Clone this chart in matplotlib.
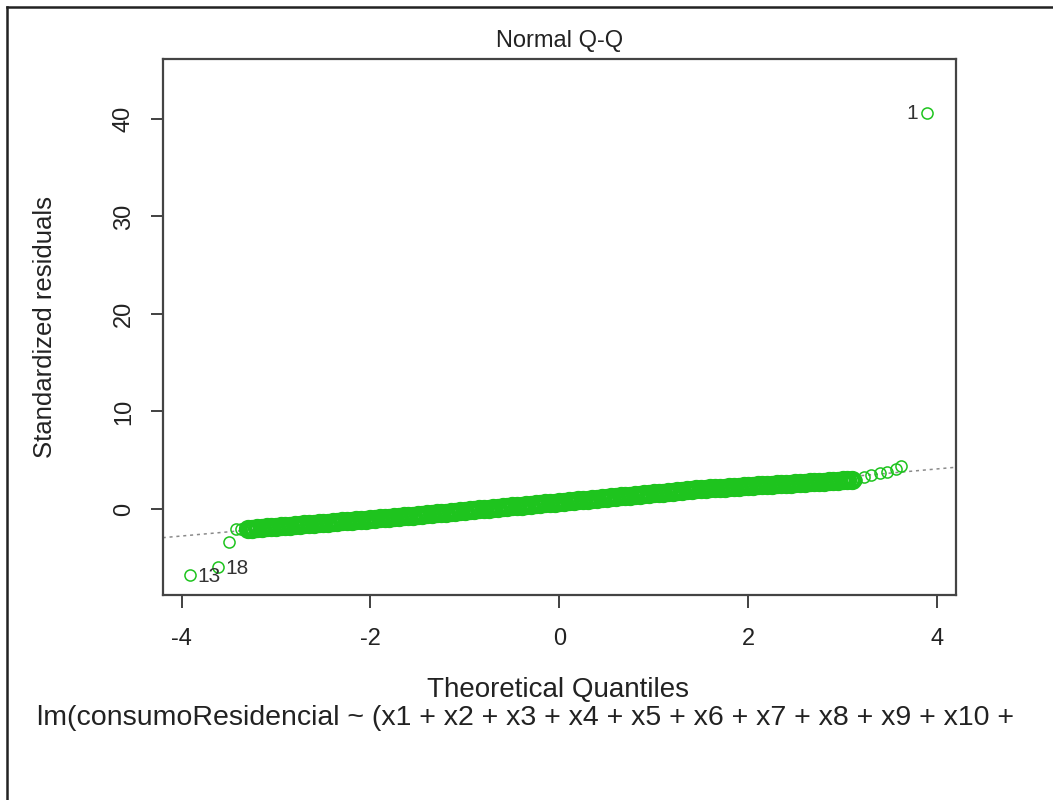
import matplotlib
matplotlib.use("Agg")
import matplotlib.pyplot as plt
import numpy as np

# --- data (theoretical quantile, standardized residual) ---
band_q = [
    -3.30, -3.25, -3.20, -3.15, -3.10, -3.05, -3.00, -2.95, -2.90, -2.85,
    -2.80, -2.75, -2.70, -2.65, -2.60, -2.55, -2.50, -2.45, -2.40, -2.35,
    -2.30, -2.25, -2.20, -2.15, -2.10, -2.05, -2.00, -1.95, -1.90, -1.85,
    -1.80, -1.75, -1.70, -1.65, -1.60, -1.55, -1.50, -1.45, -1.40, -1.35,
    -1.30, -1.25, -1.20, -1.15, -1.10, -1.05, -1.00, -0.95, -0.90, -0.85,
    -0.80, -0.75, -0.70, -0.65, -0.60, -0.55, -0.50, -0.45, -0.40, -0.35,
    -0.30, -0.25, -0.20, -0.15, -0.10, -0.05, 0.00, 0.05, 0.10, 0.15,
    0.20, 0.25, 0.30, 0.35, 0.40, 0.45, 0.50, 0.55, 0.60, 0.65,
    0.70, 0.75, 0.80, 0.85, 0.90, 0.95, 1.00, 1.05, 1.10, 1.15,
    1.20, 1.25, 1.30, 1.35, 1.40, 1.45, 1.50, 1.55, 1.60, 1.65,
    1.70, 1.75, 1.80, 1.85, 1.90, 1.95, 2.00, 2.05, 2.10, 2.15,
    2.20, 2.25, 2.30, 2.35, 2.40, 2.45, 2.50, 2.55, 2.60, 2.65,
    2.70, 2.75, 2.80, 2.85, 2.90, 2.95, 3.00, 3.05, 3.10,
]
band_r = [
    -2.05, -2.01, -1.97, -1.93, -1.89, -1.86, -1.82, -1.78, -1.74, -1.70,
    -1.66, -1.62, -1.58, -1.54, -1.50, -1.47, -1.43, -1.39, -1.35, -1.31,
    -1.27, -1.23, -1.19, -1.15, -1.12, -1.08, -1.04, -1.00, -0.96, -0.92,
    -0.88, -0.84, -0.80, -0.76, -0.71, -0.67, -0.62, -0.58, -0.54, -0.49,
    -0.45, -0.40, -0.36, -0.32, -0.27, -0.23, -0.18, -0.14, -0.10, -0.05,
    -0.01, 0.04, 0.08, 0.13, 0.17, 0.21, 0.26, 0.30, 0.35, 0.39,
    0.43, 0.48, 0.52, 0.57, 0.61, 0.66, 0.70, 0.75, 0.79, 0.84,
    0.88, 0.93, 0.97, 1.02, 1.06, 1.11, 1.15, 1.20, 1.24, 1.29,
    1.33, 1.38, 1.42, 1.47, 1.51, 1.56, 1.60, 1.65, 1.69, 1.74,
    1.78, 1.83, 1.87, 1.92, 1.96, 2.01, 2.05, 2.08, 2.11, 2.14,
    2.17, 2.20, 2.23, 2.26, 2.29, 2.32, 2.35, 2.38, 2.41, 2.44,
    2.47, 2.50, 2.52, 2.55, 2.58, 2.61, 2.64, 2.67, 2.70, 2.73,
    2.76, 2.79, 2.82, 2.85, 2.88, 2.91, 2.94, 2.97, 3.00,
]

# sparse tail points
tail_q = [-3.91, -3.61, -3.50, -3.42, -3.37, -3.33,
          3.14, 3.23, 3.30, 3.39, 3.47, 3.56, 3.62, 3.89]
tail_r = [-6.77, -5.92, -3.42, -2.02, -2.01, -2.00,
          2.97, 3.25, 3.49, 3.66, 3.83, 4.10, 4.41, 40.6]

# labelled observations: (label, quantile, residual, side)
outliers = [("1", 3.89, 40.6, "left"), ("13", -3.91, -6.77, "right"), ("18", -3.61, -5.92, "right")]

# reference line (qqline)
line_intercept = 0.67
line_slope = 0.86

title = "Normal Q-Q"
xlabel = "Theoretical Quantiles"
ylabel = "Standardized residuals"
subtitle = "lm(consumoResidencial ~ (x1 + x2 + x3 + x4 + x5 + x6 + x7 + x8 + x9 + x10 +"

plt.rcParams['font.family'] = ['Liberation Sans', 'DejaVu Sans']
plt.rcParams['axes.unicode_minus'] = False

fig = plt.figure(figsize=(10.53, 8.0), dpi=100)
ax = fig.add_axes([0.1545, 0.25625, 0.7534, 0.67])

green = '#1EC41E'
# dense band: thick overlapping rings give the solid look of thousands of points
ax.plot(band_q, band_r, linestyle='none', marker='o', markersize=10.5,
        markerfacecolor='none', markeredgecolor=green, markeredgewidth=3.4)
ax.plot(tail_q, tail_r, linestyle='none', marker='o', markersize=8,
        markerfacecolor='none', markeredgecolor=green, markeredgewidth=1.1)

ax.axline((0, line_intercept), slope=line_slope, color='#8a8a8a',
          linestyle=(0, (2, 2.5)), linewidth=1.1, zorder=1)

for lab, q, r, side in outliers:
    if side == "left":
        ax.annotate(lab, (q, r), xytext=(-6, 0), textcoords='offset points',
                    ha='right', va='center', fontsize=15, color='#333333')
    else:
        ax.annotate(lab, (q, r), xytext=(5, -1), textcoords='offset points',
                    ha='left', va='center', fontsize=15, color='#333333')

ax.set_xlim(-4.2, 4.2)
ax.set_ylim(-8.82, 46.15)
ax.set_xticks([-4, -2, 0, 2, 4])
ax.set_yticks([0, 10, 20, 30, 40])
ax.tick_params(axis='both', direction='out', length=9, width=1.3, colors='#333333',
               labelsize=17, labelcolor='#222222')
ax.tick_params(axis='x', pad=15)
ax.tick_params(axis='y', pad=11)
for lbl in ax.get_yticklabels():
    lbl.set_rotation(90)
    lbl.set_va('center')

for sp in ax.spines.values():
    sp.set_linewidth(1.6)
    sp.set_color('#444444')

ax.set_title(title, fontsize=17, pad=9, color='#222222')
ax.set_ylabel(ylabel, fontsize=18.5, labelpad=40, color='#222222')

fig.text(0.530, 0.137, xlabel, ha='center', va='center', fontsize=20, color='#222222')
fig.text(0.4995, 0.102, subtitle, ha='center', va='center', fontsize=20.5, color='#222222')

# outer frame of the screenshot
fig.add_artist(plt.Line2D([0.0066, 0.0066], [0.0, 0.991], transform=fig.transFigure,
                          color='#222222', linewidth=1.8))
fig.add_artist(plt.Line2D([0.0066, 1.0], [0.991, 0.991], transform=fig.transFigure,
                          color='#222222', linewidth=1.8))

fig.savefig("out.png", dpi=100)
